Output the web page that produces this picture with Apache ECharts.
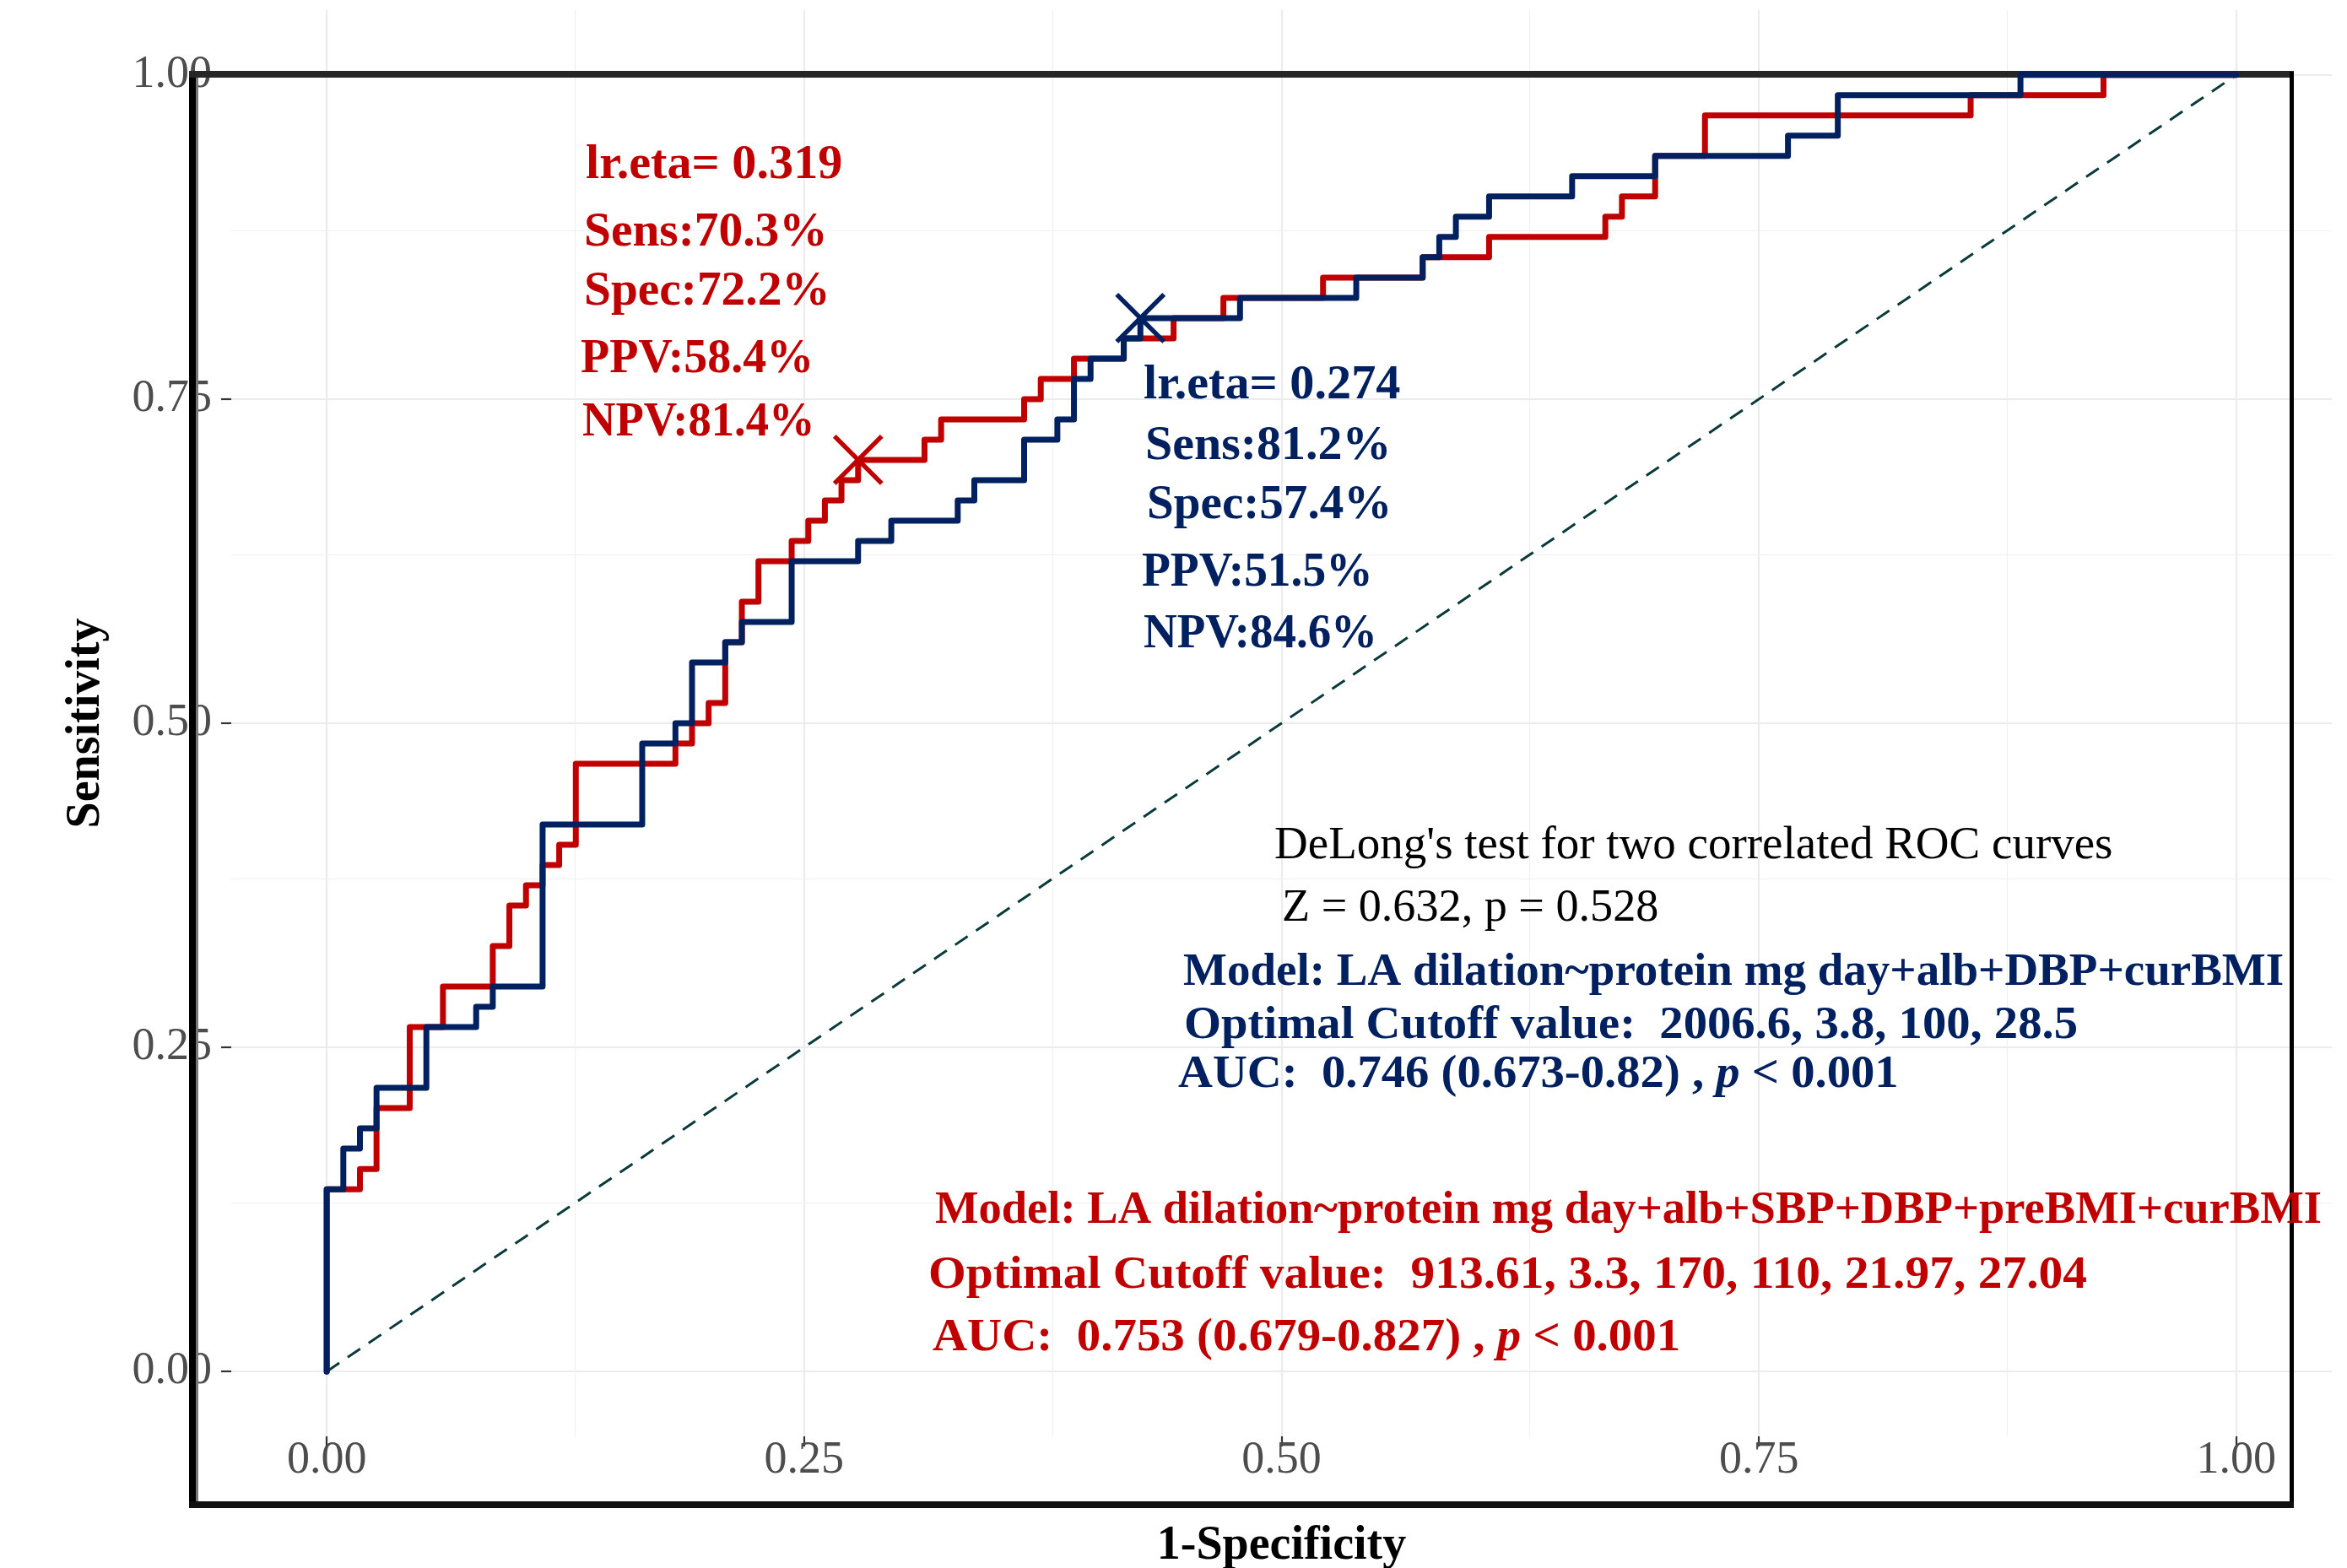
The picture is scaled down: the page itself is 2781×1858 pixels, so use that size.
<!DOCTYPE html>
<html><head><meta charset="utf-8">
<script src="https://cdn.jsdelivr.net/npm/echarts@6/dist/echarts.min.js"></script>
<style>html,body{margin:0;padding:0;background:#fff}#c{width:2781px;height:1858px}</style>
</head><body><div id="c"></div>
<script>
// Counts: 64 positives, 115 negatives
const totalNeg = 115;
const totalPos = 64;

// Red model (SBP+DBP+preBMI+curBMI): false-positive counts and true-positive counts at each vertex
const redFP = [0,0,2,2,3,3,5,5,7,7,10,10,11,11,12,12,13,13,14,14,15,15,21,21,22,22,23,23,24,24,25,25,26,26,28,28,29,29,30,30,31,31,32,32,36,36,37,37,42,42,43,43,45,45,48,48,51,51,54,54,60,60,66,66,70,70,77,77,78,78,80,80,83,83,99,99,107,107,115];
const redTP = [0,9,9,10,10,13,13,17,17,19,19,21,21,23,23,24,24,25,25,26,26,30,30,31,31,32,32,33,33,36,36,38,38,40,40,41,41,42,42,43,43,44,44,45,45,46,46,47,47,48,48,49,49,50,50,51,51,52,52,53,53,54,54,55,55,56,56,57,57,58,58,60,60,62,62,63,63,64,64];

// Blue model (DBP+curBMI)
const blueFP = [0,0,1,1,2,2,3,3,6,6,9,9,10,10,13,13,19,19,21,21,22,22,24,24,25,25,28,28,32,32,34,34,38,38,39,39,42,42,44,44,45,45,46,46,48,48,49,49,55,55,62,62,66,66,67,67,68,68,70,70,75,75,80,80,88,88,91,91,102,102,115];
const blueTP = [0,9,9,11,11,12,12,14,14,17,17,18,18,19,19,27,27,31,31,32,32,35,35,36,36,37,37,40,40,41,41,42,42,43,43,44,44,46,46,47,47,49,49,50,50,51,51,52,52,53,53,54,54,55,55,56,56,57,57,58,58,59,59,60,60,61,61,63,63,64,64];

// Optimal cut-off points (FP count, TP count)
const redCut = [32, 45];
const blueCut = [49, 52];

const tickValues = [0, 0.25, 0.5, 0.75, 1];
const majorGrid = [0, 0.25, 0.5, 0.75, 1];
const minorGrid = [0.125, 0.375, 0.625, 0.875];
const diagonal = [[0, 0], [1, 1]];

const RED = '#C00000', BLUE = '#002060';
const SERIF = '"Liberation Serif", "DejaVu Serif", serif';

const toPts = (fp, tp) => fp.map((f, i) => [f / totalNeg, tp[i] / totalPos]);

const gridLines = [];
majorGrid.forEach(v => {
  gridLines.push({xAxis: v, lineStyle: {color: '#ebebeb', width: 2.2, type: 'solid'}});
  gridLines.push({yAxis: v, lineStyle: {color: '#ebebeb', width: 2.2, type: 'solid'}});
});
minorGrid.forEach(v => {
  gridLines.push({xAxis: v, lineStyle: {color: '#f0f0f0', width: 1.2, type: 'solid'}});
  gridLines.push({yAxis: v, lineStyle: {color: '#f0f0f0', width: 1.2, type: 'solid'}});
});

const crossPath = 'path://M0,0L10,10M10,0L0,10';

function txt(x, y, text, color, size, bold, sx) {
  return {
    type: 'text', x: x, y: y, z: 10, scaleX: sx || 1,
    style: {
      text: text, fill: color, font: (bold ? 'bold ' : '') + size + 'px ' + SERIF,
      verticalAlign: 'middle', align: 'left'
    }
  };
}
function richTxt(x, y, parts, color, size, sx) {
  return {
    type: 'text', x: x, y: y, z: 10, scaleX: sx || 1,
    style: {
      text: parts, fill: color, font: 'bold ' + size + 'px ' + SERIF,
      verticalAlign: 'middle', align: 'left',
      rich: {
        a: {fill: color, fontFamily: SERIF, fontWeight: 'bold', fontSize: size},
        i: {fill: color, fontFamily: SERIF, fontWeight: 'bold', fontStyle: 'italic', fontSize: size}
      }
    }
  };
}

const chart = echarts.init(document.getElementById('c'), null, {renderer: 'canvas'});
chart.setOption({
  animation: false,
  backgroundColor: '#ffffff',
  grid: {left: 274, right: 18, top: 12, bottom: 156, containLabel: false, outerBoundsMode: 'none'},
  xAxis: {
    type: 'value', min: -0.05, max: 1.05, z: 0,
    name: '1-Specificity', nameLocation: 'middle', nameGap: 103, nameMoveOverlap: false,
    nameTextStyle: {fontFamily: SERIF, fontWeight: 'bold', fontSize: 56, color: '#000'},
    axisLine: {show: false, onZero: false},
    splitLine: {show: false},
    axisTick: {show: true, length: 12, lineStyle: {color: '#333', width: 2.2}, customValues: tickValues},
    axisLabel: {customValues: tickValues, margin: 2, fontFamily: SERIF, fontSize: 54, color: '#4d4d4d',
      formatter: v => v.toFixed(2)}
  },
  yAxis: {
    type: 'value', min: -0.05, max: 1.05, z: 0,
    name: 'Sensitivity', nameLocation: 'middle', nameGap: 143, nameRotate: 90, nameMoveOverlap: false,
    nameTextStyle: {fontFamily: SERIF, fontWeight: 'bold', fontSize: 56, color: '#000'},
    axisLine: {show: false, onZero: false},
    splitLine: {show: false},
    axisTick: {show: true, length: 12, lineStyle: {color: '#333', width: 2.2}, customValues: tickValues},
    axisLabel: {customValues: tickValues, margin: 23, fontFamily: SERIF, fontSize: 54, color: '#4d4d4d',
      padding: [0, 0, 20, 0], formatter: v => v.toFixed(2)}
  },
  series: [
    {
      name: 'grid', type: 'line', data: [], z: 0, silent: true,
      markLine: {z: 0, silent: true, symbol: ['none', 'none'], label: {show: false}, animation: false,
        emphasis: {disabled: true}, data: gridLines}
    },
    {
      name: 'reference', type: 'line', data: diagonal, z: 2, symbol: 'none', silent: true,
      lineStyle: {color: '#0b3a3a', width: 3, type: [18, 12]}
    },
    {
      name: 'red', type: 'line', data: toPts(redFP, redTP), z: 3, symbol: 'none', silent: true,
      lineStyle: {color: RED, width: 7, cap: 'round', join: 'round'}
    },
    {
      name: 'blue', type: 'line', data: toPts(blueFP, blueTP), z: 4, symbol: 'none', silent: true,
      lineStyle: {color: BLUE, width: 7, cap: 'round', join: 'round'}
    },
    {
      name: 'redCut', type: 'scatter', z: 5, silent: true,
      data: [[redCut[0] / totalNeg, redCut[1] / totalPos]],
      symbol: crossPath, symbolSize: 56,
      itemStyle: {color: 'rgba(0,0,0,0)', borderColor: RED, borderWidth: 5.5, opacity: 1}
    },
    {
      name: 'blueCut', type: 'scatter', z: 5, silent: true,
      data: [[blueCut[0] / totalNeg, blueCut[1] / totalPos]],
      symbol: crossPath, symbolSize: 56,
      itemStyle: {color: 'rgba(0,0,0,0)', borderColor: BLUE, borderWidth: 5.5, opacity: 1}
    }
  ],
  graphic: [
    // frame
    {type: 'rect', z: 1, silent: true, shape: {x: 224, y: 85, width: 8, height: 1702}, style: {fill: '#000'}},
    {type: 'rect', z: 1, silent: true, shape: {x: 232, y: 85, width: 3, height: 1702}, style: {fill: '#777'}},
    {type: 'rect', z: 1, silent: true, shape: {x: 224, y: 84, width: 2494, height: 8}, style: {fill: '#262626'}},
    {type: 'rect', z: 1, silent: true, shape: {x: 2713, y: 85, width: 5, height: 1702}, style: {fill: '#000'}},
    {type: 'rect', z: 1, silent: true, shape: {x: 224, y: 1779, width: 2494, height: 8}, style: {fill: '#111'}},
    // red cut-off block
    txt(694, 197, 'lr.eta= 0.319', RED, 56, true, 1.04),
    txt(692, 277, 'Sens:70.3%', RED, 56, true, 1.025),
    txt(692, 347, 'Spec:72.2%', RED, 56, true, 1.025),
    txt(688, 427, 'PPV:58.4%', RED, 56, true, 1.0),
    txt(690, 502, 'NPV:81.4%', RED, 56, true, 0.975),
    // blue cut-off block
    txt(1355, 458, 'lr.eta= 0.274', BLUE, 56, true, 1.04),
    txt(1357, 530, 'Sens:81.2%', BLUE, 56, true, 1.035),
    txt(1359, 600, 'Spec:57.4%', BLUE, 56, true, 1.02),
    txt(1353, 680, 'PPV:51.5%', BLUE, 56, true, 0.99),
    txt(1355, 753, 'NPV:84.6%', BLUE, 56, true, 0.98),
    // DeLong test
    txt(1510, 1003, "DeLong's test for two correlated ROC curves", '#000', 55, false),
    txt(1519, 1077, 'Z = 0.632, p = 0.528', '#000', 55, false, 0.985),
    // blue model
    txt(1402, 1153, 'Model: LA dilation~protein mg day+alb+DBP+curBMI', BLUE, 55, true),
    txt(1403, 1216, 'Optimal Cutoff value:  2006.6, 3.8, 100, 28.5', BLUE, 55, true, 1.03),
    richTxt(1396, 1274, '{a|AUC:  0.746 (0.673-0.82) , }{i|p}{a| < 0.001}', BLUE, 55, 1.03),
    // red model
    txt(1108, 1435, 'Model: LA dilation~protein mg day+alb+SBP+DBP+preBMI+curBMI', RED, 55, true, 0.992),
    txt(1100, 1512, 'Optimal Cutoff value:  913.61, 3.3, 170, 110, 21.97, 27.04', RED, 55, true, 1.045),
    richTxt(1105, 1586, '{a|AUC:  0.753 (0.679-0.827) , }{i|p}{a| < 0.001}', RED, 55, 1.035)
  ]
});
</script>
</body></html>
